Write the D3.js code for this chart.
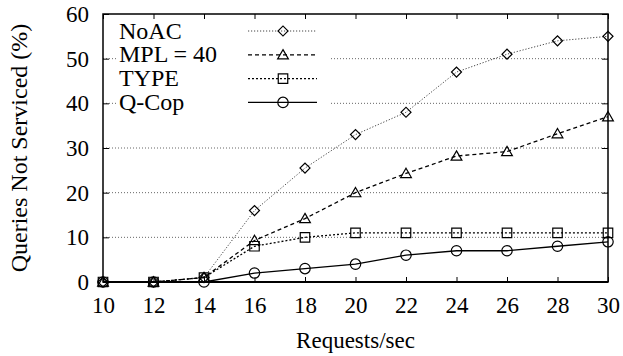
<!DOCTYPE html>
<html>
<head>
<meta charset="utf-8">
<script src="https://cdn.jsdelivr.net/npm/d3@7"></script>
<style>
  body { margin: 0; background: #fff; }
</style>
</head>
<body>
<svg id="chart" width="623" height="356" font-family="Liberation Serif" font-size="23"></svg>
<script>
// request rates on the x axis
const rates = [10, 12, 14, 16, 18, 20, 22, 24, 26, 28, 30];

// percentage of queries not serviced, per policy
const noac   = [0, 0, 1, 16, 25.5, 33, 38, 47, 51, 54, 55];
const mpl40  = [0, 0, 1, 9.3, 14.2, 20, 24.3, 28.2, 29.2, 33.2, 37];
const type   = [0, 0, 1, 8, 10, 11, 11, 11, 11, 11, 11];
const qcop   = [0, 0, 0, 2, 3, 4, 6, 7, 7, 8, 9];

const seriesNames = ["NoAC", "MPL = 40", "TYPE", "Q-Cop"];
const yTicks = [0, 10, 20, 30, 40, 50, 60];
const gridTicks = [10, 20, 30, 40, 50];

const series = [
  { name: seriesNames[0], values: noac,  marker: "diamond",  dash: "1.2,1.8", color: "#444", width: 1 },
  { name: seriesNames[1], values: mpl40, marker: "triangle", dash: "4,3",     color: "#000", width: 1.3 },
  { name: seriesNames[2], values: type,  marker: "square",   dash: "2,2",     color: "#000", width: 1.3 },
  { name: seriesNames[3], values: qcop,  marker: "circle",   dash: null,      color: "#000", width: 1.3 }
];

const svg = d3.select("#chart");
const margin = { top: 14, right: 15, bottom: 74, left: 103 };
const width = 623 - margin.left - margin.right;
const height = 356 - margin.top - margin.bottom;

const chart = svg.append("g")
  .attr("transform", `translate(${margin.left},${margin.top})`);

const x = d3.scaleLinear().domain([10, 30]).range([0, width]);
const y = d3.scaleLinear().domain([0, 60]).range([height, 0]);

// horizontal grid
chart.append("g")
  .selectAll("line")
  .data(gridTicks)
  .join("line")
  .attr("x1", 0).attr("x2", width)
  .attr("y1", d => y(d)).attr("y2", d => y(d))
  .attr("stroke", "#666")
  .attr("stroke-width", 1)
  .attr("stroke-dasharray", "1,2");

// legend background hides the grid behind it
chart.append("rect")
  .attr("x", 15).attr("y", 6)
  .attr("width", 213).attr("height", 100)
  .attr("fill", "#fff");

// axes
const xAxis = chart.append("g")
  .attr("transform", `translate(0,${height})`)
  .call(d3.axisBottom(x).tickValues(rates).tickFormat(d3.format("d"))
    .tickSizeInner(-5).tickSizeOuter(0).tickPadding(15));
const xTop = chart.append("g")
  .call(d3.axisTop(x).tickValues(rates).tickFormat("")
    .tickSizeInner(-5).tickSizeOuter(0));
const yAxis = chart.append("g")
  .call(d3.axisLeft(y).tickValues(yTicks).tickFormat(d3.format("d"))
    .tickSizeInner(-6).tickSizeOuter(0).tickPadding(14));
const yRight = chart.append("g")
  .attr("transform", `translate(${width},0)`)
  .call(d3.axisRight(y).tickValues(yTicks).tickFormat("")
    .tickSizeInner(-6).tickSizeOuter(0));

[xAxis, xTop, yAxis, yRight].forEach(g => {
  g.attr("font-family", "Liberation Serif").attr("font-size", 23);
  g.selectAll(".domain").remove();
  g.selectAll(".tick line").attr("stroke", "#000").attr("stroke-width", 1);
});

// frame
chart.append("rect")
  .attr("width", width).attr("height", height)
  .attr("fill", "none")
  .attr("stroke", "#000")
  .attr("stroke-width", 1.5);

// markers
const symbolFor = {
  diamond: d3.symbol().type(d3.symbolSquare).size(50),
  triangle: d3.symbol().type(d3.symbolTriangle).size(50),
  square: d3.symbol().type(d3.symbolSquare).size(90),
  circle: d3.symbol().type(d3.symbolCircle).size(85)
};

function drawMarker(g, kind, cx, cy) {
  g.append("path")
    .attr("d", symbolFor[kind]())
    .attr("transform", `translate(${cx},${cy})` + (kind === "diamond" ? " rotate(45)" : "") + (kind === "triangle" ? " translate(0,1)" : ""))
    .attr("fill", "none")
    .attr("stroke", "#000")
    .attr("stroke-width", 1.2);
}

const line = d3.line()
  .x((d, i) => x(rates[i]))
  .y(d => y(d));

series.forEach(s => {
  chart.append("path")
    .datum(s.values)
    .attr("d", line)
    .attr("fill", "none")
    .attr("stroke", s.color)
    .attr("stroke-width", s.width)
    .attr("stroke-dasharray", s.dash);
  const mg = chart.append("g");
  s.values.forEach((v, i) => drawMarker(mg, s.marker, x(rates[i]), y(v)));
});

// thick baseline where all series sit at zero
chart.append("line")
  .attr("x1", 0).attr("x2", width)
  .attr("y1", height).attr("y2", height)
  .attr("stroke", "#000").attr("stroke-width", 2);

// legend
const legend = chart.append("g");
series.forEach((s, i) => {
  const ly = 17 + i * 23.8;
  legend.append("text")
    .attr("x", 16).attr("y", ly + 7.5)
    .attr("font-size", 24)
    .text(s.name);
  legend.append("line")
    .attr("x1", 145).attr("x2", 214)
    .attr("y1", ly).attr("y2", ly)
    .attr("stroke", s.color)
    .attr("stroke-width", s.width)
    .attr("stroke-dasharray", s.dash);
  drawMarker(legend, s.marker, 180, ly);
});

// axis titles
svg.append("text")
  .attr("x", margin.left + width / 2)
  .attr("y", 348)
  .attr("text-anchor", "middle")
  .text("Requests/sec");

svg.append("text")
  .attr("transform", `translate(27,${margin.top + height / 2}) rotate(-90)`)
  .attr("text-anchor", "middle")
  .attr("font-size", 24)
  .text("Queries Not Serviced (%)");
</script>
</body>
</html>
